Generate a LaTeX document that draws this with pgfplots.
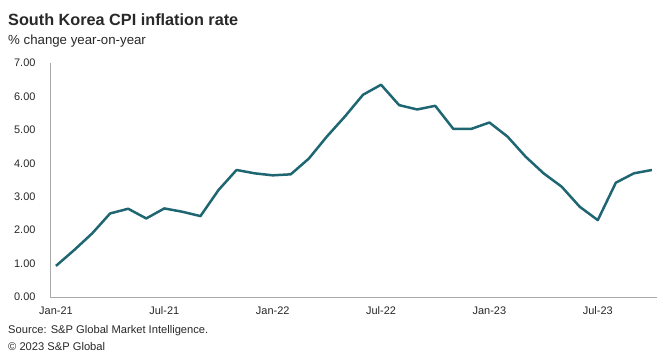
\documentclass[border=0pt]{standalone}
\usepackage{pgfplots}
\pgfplotsset{compat=1.18}
\usepackage{fontspec}
\setmainfont{Liberation Sans}
\definecolor{linecol}{RGB}{30,102,114}
\definecolor{axcol}{RGB}{170,170,170}
\definecolor{txt}{RGB}{40,40,40}
\begin{document}
\begin{tikzpicture}[x=1bp,y=1bp]
\useasboundingbox (0,0) rectangle (657,354);
\begin{axis}[
  at={(50bp,57bp)}, anchor=south west,
  scale only axis, width=607bp, height=234bp,
  xmin=-0.33, xmax=33.28, ymin=0, ymax=7,
  axis x line*=bottom, axis y line*=left,
  axis line style={axcol, line width=0.8pt},
  xtick={0,6,12,18,24,30},
  xticklabels={Jan-21,Jul-21,Jan-22,Jul-22,Jan-23,Jul-23},
  ytick={0,1,2,3,4,5,6,7},
  major tick length=0pt,
  tick label style={font=\fontsize{11}{12}\selectfont, text=txt},
  /pgf/number format/assume math mode=true,
  /pgf/number format/fixed,
  /pgf/number format/fixed zerofill,
  /pgf/number format/precision=2,
  xticklabel style={yshift=-6bp},
  yticklabel style={xshift=-11bp},
  clip=false,
]
\addplot[linecol, line width=2.5pt, no marks, line join=round] coordinates {
(0,0.93) (1,1.4) (2,1.9) (3,2.5) (4,2.64) (5,2.35) (6,2.65) (7,2.55) (8,2.42) (9,3.2) (10,3.8) (11,3.7)
(12,3.64) (13,3.67) (14,4.14) (15,4.8) (16,5.4) (17,6.05) (18,6.35) (19,5.74) (20,5.61) (21,5.72) (22,5.03) (23,5.03)
(24,5.22) (25,4.8) (26,4.2) (27,3.7) (28,3.3) (29,2.7) (30,2.3) (31,3.42) (32,3.7) (33,3.8)
};
\end{axis}
\node[anchor=west, inner sep=0pt, font=\bfseries\fontsize{16.3}{18}\selectfont, text=txt] at (8,334) {South Korea CPI inflation rate};
\node[anchor=west, inner sep=0pt, font=\fontsize{13.3}{15}\selectfont, text=txt] at (8,313) {\% change year-on-year};
\node[anchor=west, inner sep=0pt, font=\fontsize{11.2}{13}\selectfont, text=txt] at (8,23) {Source: S\&P Global Market Intelligence.};
\node[anchor=west, inner sep=0pt, font=\fontsize{11.2}{13}\selectfont, text=txt] at (8,7) {\textcopyright{} 2023 S\&P Global};
\end{tikzpicture}
\end{document}
